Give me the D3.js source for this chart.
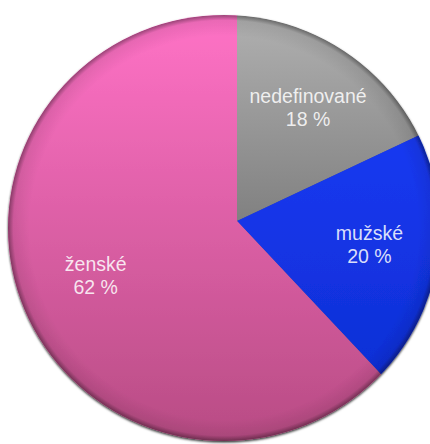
<!DOCTYPE html>
<html>
<head>
<meta charset="utf-8">
<script src="https://cdn.jsdelivr.net/npm/d3@7"></script>
<style>
  body { margin: 0; background: #fff; }
  svg { display: block; }
  text { font-family: "Liberation Sans", Arial, sans-serif; font-size: 19.5px; }
</style>
</head>
<body>
<svg id="chart" width="430" height="444"></svg>
<script>
  const categories = ["nedefinované", "mužské", "ženské"];
  const shares = [18, 20, 62];

  // light at the top of the disk, dark at the bottom
  const topColors    = ["#b0b0b0", "#1c3eff", "#ff72c6"];
  const bottomColors = ["#4e4e4e", "#0c2cce", "#b84c84"];

  const svg = d3.select("#chart");

  // the disk outline sits a bit off the wedge tip, the original looks slightly tilted
  const disk = {cx: 224, cy: 228, rx: 216, ry: 213};
  const tip = [237, 221];

  const defs = svg.append("defs");

  defs.append("clipPath").attr("id", "diskClip")
    .append("ellipse")
      .attr("cx", disk.cx).attr("cy", disk.cy)
      .attr("rx", disk.rx).attr("ry", disk.ry);

  const shadow = defs.append("filter").attr("id", "shadow")
    .attr("x", "-10%").attr("y", "-10%").attr("width", "120%").attr("height", "120%");
  shadow.append("feDropShadow")
    .attr("dx", 0).attr("dy", 1.5).attr("stdDeviation", 1.2)
    .attr("flood-color", "#000").attr("flood-opacity", 0.8);

  // gradients are used inside the group moved to the tip, so offset them back
  categories.forEach(function(c, i) {
    const grad = defs.append("linearGradient")
      .attr("id", "grad" + i)
      .attr("gradientUnits", "userSpaceOnUse")
      .attr("x1", 0).attr("y1", disk.cy - disk.ry - tip[1])
      .attr("x2", 0).attr("y2", disk.cy + disk.ry - tip[1]);
    grad.append("stop").attr("offset", 0).attr("stop-color", topColors[i]);
    grad.append("stop").attr("offset", 1).attr("stop-color", bottomColors[i]);
  });

  // darker rim along the edge
  const rim = defs.append("radialGradient").attr("id", "rim");
  rim.append("stop").attr("offset", 0.9).attr("stop-color", "#000").attr("stop-opacity", 0);
  rim.append("stop").attr("offset", 0.975).attr("stop-color", "#000").attr("stop-opacity", 0.08);
  rim.append("stop").attr("offset", 1).attr("stop-color", "#000").attr("stop-opacity", 0.4);

  const pie = d3.pie().sort(null).value(function(d) { return d; });
  const arcs = pie(shares);

  // wedges are drawn oversized and cut by the disk outline
  const arcGenerator = d3.arc().innerRadius(0).outerRadius(400);

  const outer = svg.append("g").attr("filter", "url(#shadow)");
  const clipped = outer.append("g").attr("clip-path", "url(#diskClip)");

  clipped.append("g")
    .attr("transform", "translate(" + tip + ")")
    .selectAll("path")
    .data(arcs)
    .enter()
    .append("path")
      .attr("d", arcGenerator)
      .attr("fill", function(d, i) { return "url(#grad" + i + ")"; });

  clipped.append("ellipse")
    .attr("cx", disk.cx).attr("cy", disk.cy)
    .attr("rx", disk.rx).attr("ry", disk.ry)
    .attr("fill", "url(#rim)");

  // distance from the tip to the disk edge along an angle (0 = up, clockwise)
  function edgeDist(a) {
    const dx = Math.sin(a), dy = -Math.cos(a);
    const ox = tip[0] - disk.cx, oy = tip[1] - disk.cy;
    const rx2 = disk.rx * disk.rx, ry2 = disk.ry * disk.ry;
    const A = dx * dx / rx2 + dy * dy / ry2;
    const B = 2 * (ox * dx / rx2 + oy * dy / ry2);
    const C = ox * ox / rx2 + oy * oy / ry2 - 1;
    return (-B + Math.sqrt(B * B - 4 * A * C)) / (2 * A);
  }

  const labels = svg.append("g")
    .selectAll("text")
    .data(arcs)
    .enter()
    .append("text")
      .attr("text-anchor", "middle")
      .attr("fill", "#fff")
      .attr("fill-opacity", 0.85)
      .attr("transform", function(d) {
        const a = (d.startAngle + d.endAngle) / 2;
        const r = 0.66 * edgeDist(a);
        return "translate(" + (tip[0] + r * Math.sin(a)) + "," + (tip[1] - r * Math.cos(a)) + ")";
      });

  labels.append("tspan")
    .attr("x", 0).attr("y", -6)
    .text(function(d, i) { return categories[i]; });
  labels.append("tspan")
    .attr("x", 0).attr("y", 17)
    .text(function(d) { return d.data + " %"; });
</script>
</body>
</html>
